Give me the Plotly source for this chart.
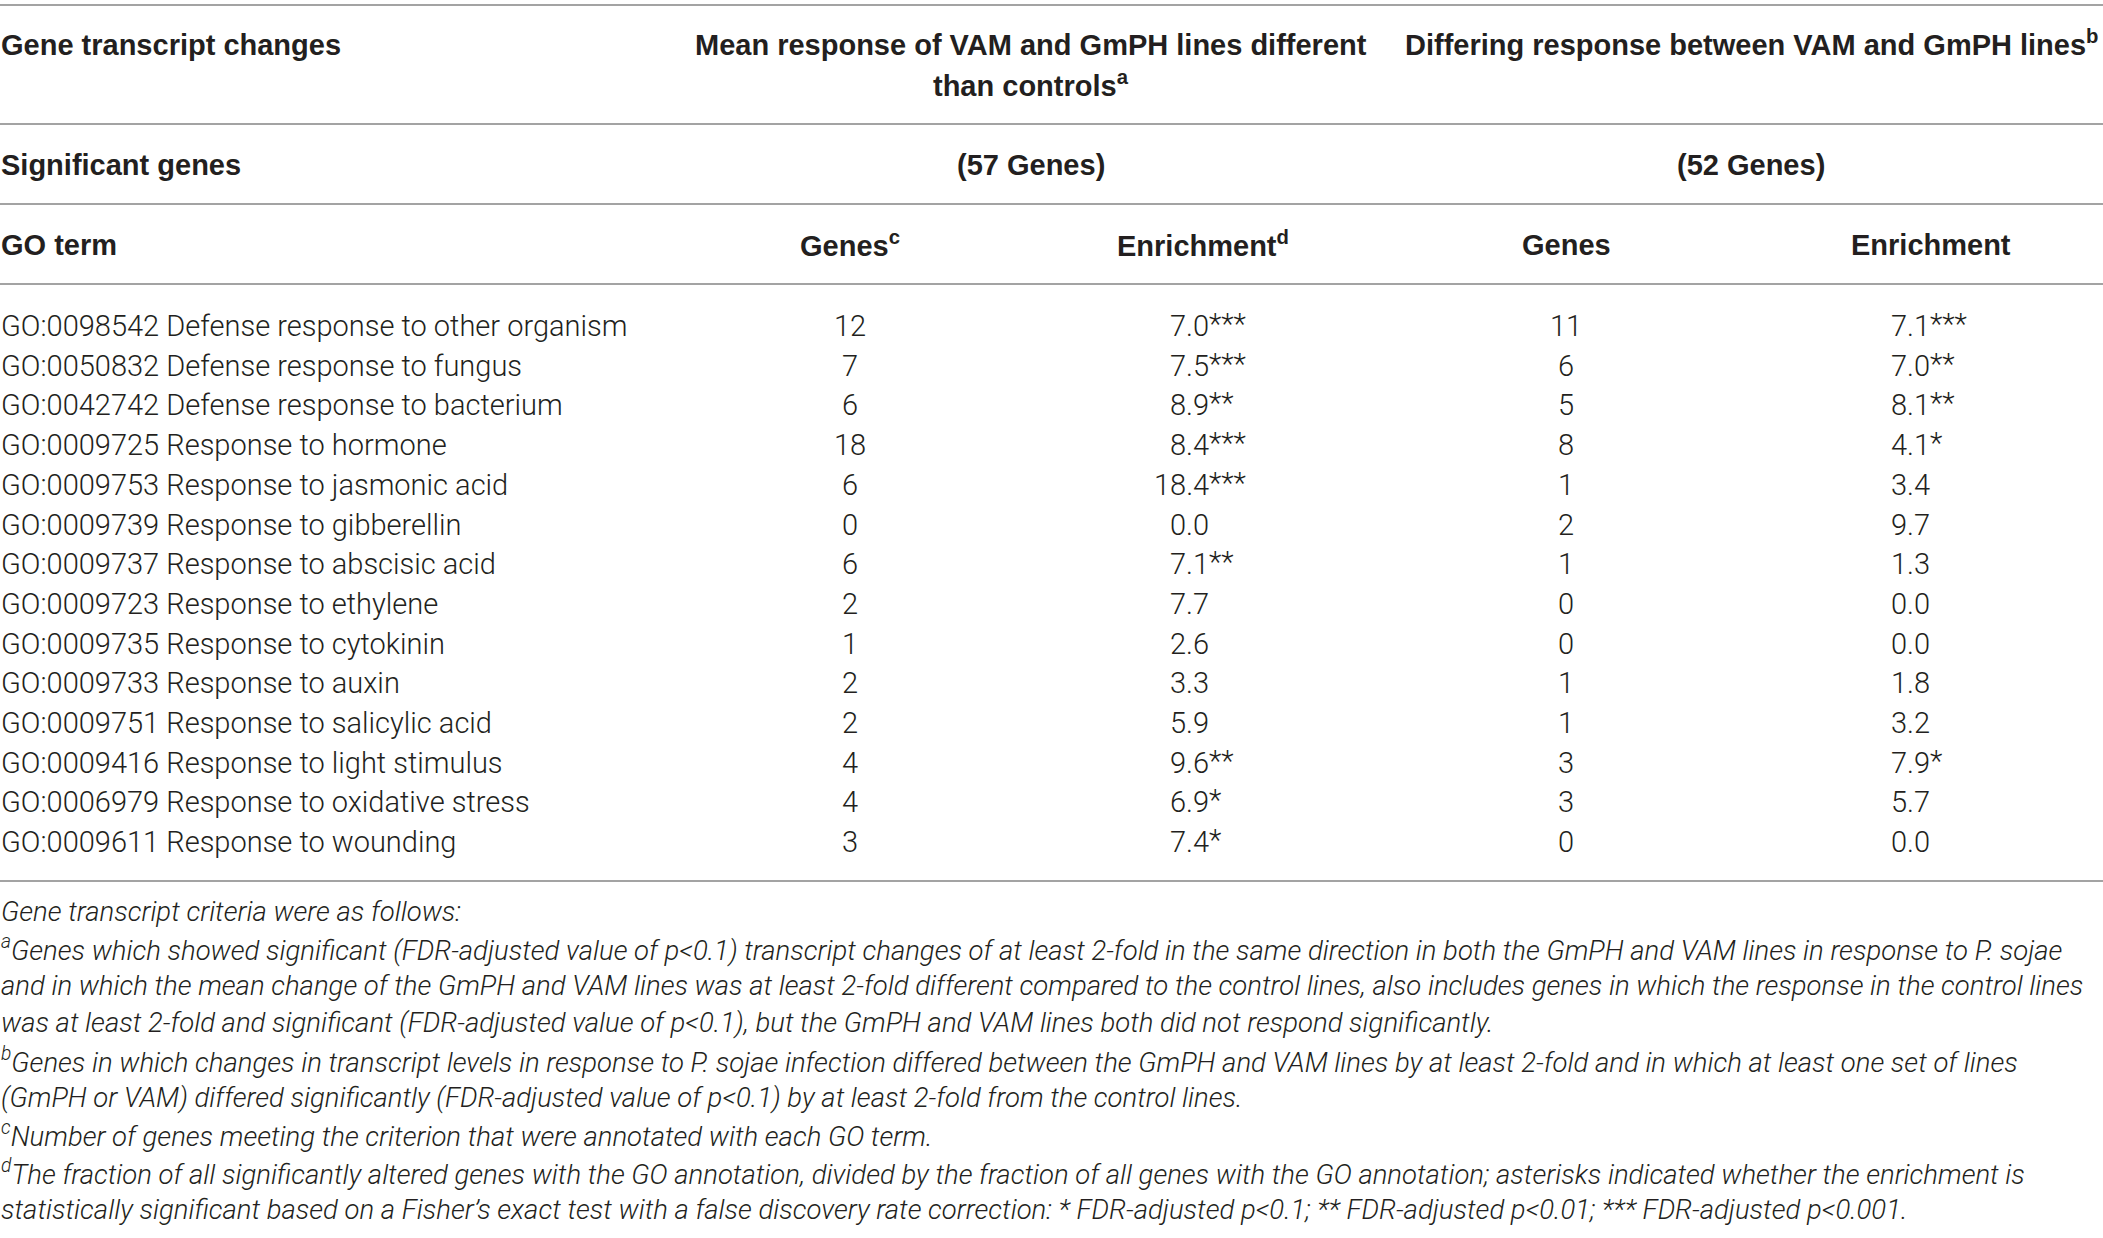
import plotly.graph_objects as go

# table content
go_terms = [
    "GO:0098542 Defense response to other organism",
    "GO:0050832 Defense response to fungus",
    "GO:0042742 Defense response to bacterium",
    "GO:0009725 Response to hormone",
    "GO:0009753 Response to jasmonic acid",
    "GO:0009739 Response to gibberellin",
    "GO:0009737 Response to abscisic acid",
    "GO:0009723 Response to ethylene",
    "GO:0009735 Response to cytokinin",
    "GO:0009733 Response to auxin",
    "GO:0009751 Response to salicylic acid",
    "GO:0009416 Response to light stimulus",
    "GO:0006979 Response to oxidative stress",
    "GO:0009611 Response to wounding",
]
genes_mean = [12, 7, 6, 18, 6, 0, 6, 2, 1, 2, 2, 4, 4, 3]
enrich_mean = [7.0, 7.5, 8.9, 8.4, 18.4, 0.0, 7.1, 7.7, 2.6, 3.3, 5.9, 9.6, 6.9, 7.4]
stars_mean = ["***", "***", "**", "***", "***", "", "**", "", "", "", "", "**", "*", "*"]
genes_diff = [11, 6, 5, 8, 1, 2, 1, 0, 0, 1, 1, 3, 3, 0]
enrich_diff = [7.1, 7.0, 8.1, 4.1, 3.4, 9.7, 1.3, 0.0, 0.0, 1.8, 3.2, 7.9, 5.7, 0.0]
stars_diff = ["***", "**", "**", "*", "", "", "", "", "", "", "", "*", "", ""]

n_sig_mean = 57
n_sig_diff = 52

footnotes = [
    "Gene transcript criteria were as follows:",
    "<sup>a</sup>Genes which showed significant (FDR-adjusted value of p&lt;0.1) transcript changes of at least 2-fold in the same direction in both the GmPH and VAM lines in response to P. sojae",
    "and in which the mean change of the GmPH and VAM lines was at least 2-fold different compared to the control lines, also includes genes in which the response in the control lines",
    "was at least 2-fold and significant (FDR-adjusted value of p&lt;0.1), but the GmPH and VAM lines both did not respond significantly.",
    "<sup>b</sup>Genes in which changes in transcript levels in response to P. sojae infection differed between the GmPH and VAM lines by at least 2-fold and in which at least one set of lines",
    "(GmPH or VAM) differed significantly (FDR-adjusted value of p&lt;0.1) by at least 2-fold from the control lines.",
    "<sup>c</sup>Number of genes meeting the criterion that were annotated with each GO term.",
    "<sup>d</sup>The fraction of all significantly altered genes with the GO annotation, divided by the fraction of all genes with the GO annotation; asterisks indicated whether the enrichment is",
    "statistically significant based on a Fisher\u2019s exact test with a false discovery rate correction: * FDR-adjusted p&lt;0.1; ** FDR-adjusted p&lt;0.01; *** FDR-adjusted p&lt;0.001.",
]

# layout of the table (pixel-like axis units)
W, H = 2103, 1238
TXT = "#231f20"
RULE = "#a3a3a3"
body = dict(family="Roboto", size=29, color=TXT, weight=300)
head = dict(family="Liberation Sans, Arial", size=29, color=TXT, weight="bold")
foot = dict(family="Roboto", size=27.5, color=TXT, weight=300, style="italic")

x_term, x_gm, x_em, x_gd, x_ed = 0, 850, 1210, 1566, 1931
x_grp1, x_grp2 = 1031, 1751
row0, row_step = 326, 39.7
foot0, foot_step = 911, 37.3
rules = [5, 124, 204, 284, 881]

fig = go.Figure()
fig.add_trace(go.Scatter(x=[0, W], y=[0, H], mode="markers",
                         marker=dict(opacity=0), hoverinfo="skip", showlegend=False))

ann = []


def cell(x, y, text, font, anchor="center"):
    ann.append(dict(x=x, y=y, xref="x", yref="y", text=text, showarrow=False,
                    xanchor=anchor, yanchor="middle", font=font, borderpad=0))


# header
cell(x_term, 45, "Gene transcript changes", head, "left")
cell(x_grp1, 45, "Mean response of VAM and GmPH lines different", head)
cell(x_grp1, 84, "than controls<sup>a</sup>", head)
cell(x_grp2, 43, "Differing response between VAM and GmPH lines<sup>b</sup>", head)
cell(x_term, 165, "Significant genes", head, "left")
cell(x_grp1, 165, f"({n_sig_mean} Genes)", head)
cell(x_grp2, 165, f"({n_sig_diff} Genes)", head)
cell(x_term, 245, "GO term", head, "left")
cell(x_gm, 244, "Genes<sup>c</sup>", head)
cell(x_em - 7, 244, "Enrichment<sup>d</sup>", head)
cell(x_gd, 245, "Genes", head)
cell(x_ed, 245, "Enrichment", head)

# body rows
for i, term in enumerate(go_terms):
    y = row0 + i * row_step
    cell(x_term, y, term, body, "left")
    cell(x_gm, y, str(genes_mean[i]), body)
    cell(x_em, y, f"{enrich_mean[i]:.1f}", body, "right")
    if stars_mean[i]:
        cell(x_em - 2, y - 2, stars_mean[i], body, "left")
    cell(x_gd, y, str(genes_diff[i]), body)
    cell(x_ed, y, f"{enrich_diff[i]:.1f}", body, "right")
    if stars_diff[i]:
        cell(x_ed - 2, y - 2, stars_diff[i], body, "left")

# footnotes
for j, line in enumerate(footnotes):
    cell(x_term, foot0 + j * foot_step, line, foot, "left")

shapes = [dict(type="line", xref="x", yref="y", x0=0, x1=W, y0=r, y1=r,
               line=dict(color=RULE, width=2)) for r in rules]

fig.update_layout(
    width=W, height=H,
    margin=dict(l=0, r=0, t=0, b=0),
    paper_bgcolor="white", plot_bgcolor="white",
    xaxis=dict(range=[0, W], visible=False, fixedrange=True),
    yaxis=dict(range=[H, 0], visible=False, fixedrange=True),
    annotations=ann, shapes=shapes,
)

# drop the page's default body margin so the table sits flush with the window
fig.write_html("out.html", config={"displayModeBar": False},
               post_script="document.body.style.margin='0px';")
